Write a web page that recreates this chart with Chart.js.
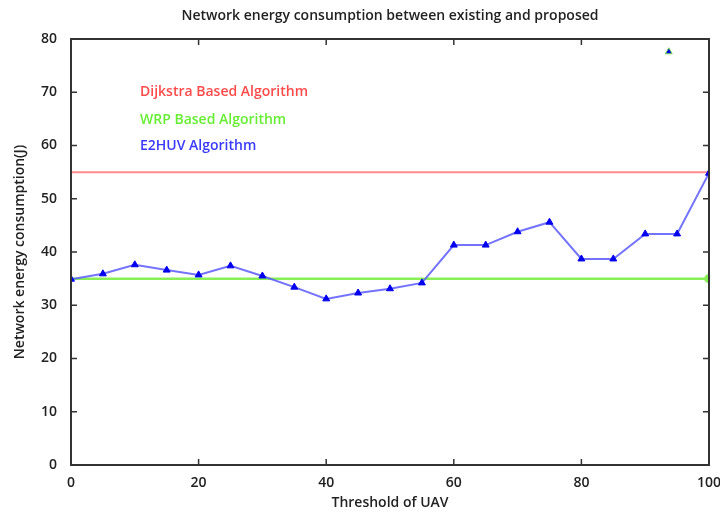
<!DOCTYPE html>
<html>
<head>
<meta charset="utf-8">
<script src="https://cdn.jsdelivr.net/npm/chart.js@4.4.1/dist/chart.umd.min.js"></script>
<style>
  html, body { margin: 0; padding: 0; background: #fff; }
  #wrap { width: 720px; height: 512px; }
</style>
</head>
<body>
<div id="wrap"><canvas id="energyChart" width="720" height="512"></canvas></div>
<script>
const chartTitle = "Network energy consumption between existing and proposed";
const xAxisTitle = "Threshold of UAV";
const yAxisTitle = "Network energy consumption(J)";

const thresholds = [0, 5, 10, 15, 20, 25, 30, 35, 40, 45, 50, 55, 60, 65, 70, 75, 80, 85, 90, 95, 100];
const e2huvEnergy = [34.9, 35.9, 37.6, 36.6, 35.7, 37.4, 35.5, 33.4, 31.2, 32.3, 33.1, 34.2, 41.3, 41.3, 43.8, 45.6, 38.7, 38.7, 43.4, 43.4, 54.8];
const lineEnds = [0, 100];
const dijkstraEnergy = [55, 55];
const wrpEnergy = [35, 35];
const strayPoint = { x: 93.7, y: 77.6 };

const seriesNames = ["Dijkstra Based Algorithm", "WRP Based Algorithm", "E2HUV Algorithm"];
const seriesColors = ["#ff4a4a", "#66ee33", "#3a3aff"];

const xTicks = [0, 20, 40, 60, 80, 100];
const yTicks = [0, 10, 20, 30, 40, 50, 60, 70, 80];

function toPoints(xs, ys) {
  return xs.map((x, i) => ({ x: x, y: ys[i] }));
}

const FONT = "'Open Sans', 'DejaVu Sans', sans-serif";
const textFont = { family: FONT, size: 14, weight: "600" };

// frame, inward ticks, title and in-plot labels
const decorPlugin = {
  id: "decor",
  afterDatasetsDraw(chart) {
    const ctx = chart.ctx;
    const a = chart.chartArea;
    const xs = chart.scales.x;
    const ys = chart.scales.y;
    ctx.save();
    ctx.strokeStyle = "#333";
    ctx.lineWidth = 2;
    ctx.strokeRect(a.left, a.top, a.right - a.left, a.bottom - a.top);
    ctx.lineWidth = 1.5;
    ctx.beginPath();
    xTicks.slice(1, -1).forEach((t) => {
      const px = xs.getPixelForValue(t);
      ctx.moveTo(px, a.bottom); ctx.lineTo(px, a.bottom - 6);
      ctx.moveTo(px, a.top); ctx.lineTo(px, a.top + 6);
    });
    yTicks.slice(1, -1).forEach((t) => {
      const py = ys.getPixelForValue(t);
      ctx.moveTo(a.left, py); ctx.lineTo(a.left + 6, py);
      ctx.moveTo(a.right, py); ctx.lineTo(a.right - 6, py);
    });
    ctx.stroke();

    ctx.fillStyle = "#222";
    ctx.font = "600 14px " + FONT;
    ctx.textAlign = "center";
    ctx.textBaseline = "middle";
    ctx.fillText(chartTitle, (a.left + a.right) / 2, 16);

    ctx.textAlign = "left";
    const labelY = [92, 120, 146];
    seriesNames.forEach((name, i) => {
      ctx.fillStyle = seriesColors[i];
      ctx.fillText(name, 140, labelY[i]);
    });
    ctx.restore();
  }
};

new Chart(document.getElementById("energyChart"), {
  type: "scatter",
  data: {
    datasets: [
      {
        label: seriesNames[2],
        data: toPoints(thresholds, e2huvEnergy),
        showLine: true,
        borderColor: "rgba(90, 90, 255, 0.85)",
        borderWidth: 2,
        pointStyle: "triangle",
        pointRadius: 4,
        pointBackgroundColor: "#0000ee",
        pointBorderColor: "#0000ee",
        pointBorderWidth: 1,
        order: 0
      },
      {
        label: seriesNames[0],
        data: toPoints(lineEnds, dijkstraEnergy),
        showLine: true,
        borderColor: "#ff8c8c",
        borderWidth: 2,
        pointRadius: 0,
        order: 2
      },
      {
        label: seriesNames[1],
        data: toPoints(lineEnds, wrpEnergy),
        showLine: true,
        borderColor: "#88f055",
        borderWidth: 2.5,
        pointRadius: [0, 3.5],
        pointBackgroundColor: "#88f055",
        pointBorderColor: "#88f055",
        order: 1
      },
      {
        label: "extra",
        data: [strayPoint],
        pointStyle: "triangle",
        pointRadius: 4,
        pointBackgroundColor: "#0000ee",
        pointBorderColor: "#7be04a",
        pointBorderWidth: 1,
        order: 0
      }
    ]
  },
  options: {
    responsive: false,
    animation: false,
    layout: { padding: { left: 0, right: 11, top: 39, bottom: 0 } },
    plugins: {
      legend: { display: false },
      title: { display: false },
      tooltip: { enabled: false }
    },
    scales: {
      x: {
        type: "linear",
        min: 0,
        max: 100,
        afterBuildTicks: (s) => { s.ticks = xTicks.map((v) => ({ value: v })); },
        afterFit: (s) => { s.height = 47; s.paddingLeft = 0; s.paddingRight = 0; },
        grid: { display: false, drawTicks: false },
        border: { display: false },
        ticks: { color: "#222", font: textFont, padding: 10, maxRotation: 0 },
        title: { display: true, text: xAxisTitle, color: "#222", font: textFont, padding: { top: 0, bottom: 1 } }
      },
      y: {
        type: "linear",
        min: 0,
        max: 80,
        afterBuildTicks: (s) => { s.ticks = yTicks.map((v) => ({ value: v })); },
        afterFit: (s) => { s.width = 71; s.paddingTop = 0; s.paddingBottom = 0; },
        grid: { display: false, drawTicks: false },
        border: { display: false },
        ticks: { color: "#222", font: textFont, padding: 14 },
        title: { display: true, text: yAxisTitle, color: "#222", font: textFont, padding: { top: 12, bottom: 0 } }
      }
    }
  },
  plugins: [decorPlugin]
});
</script>
</body>
</html>
